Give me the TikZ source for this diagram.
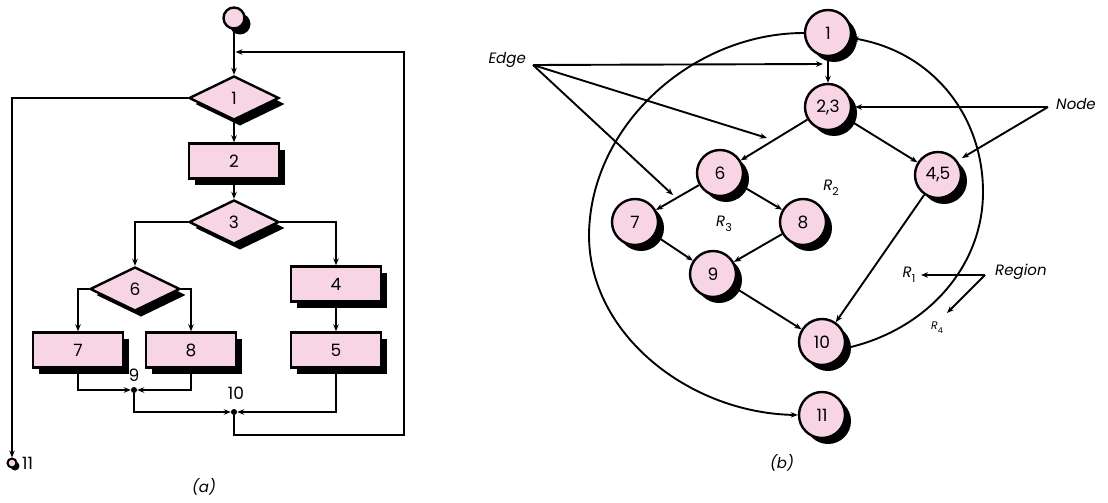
\documentclass[tikz,border=0pt]{standalone}
\usepackage{fontspec}
\setmainfont{Poppins}
\usetikzlibrary{shapes.geometric,arrows.meta,shadows}
\definecolor{pk}{RGB}{248,213,229}
\newcommand{\fnum}{\fontsize{17}{17}\selectfont}
\newcommand{\Rlab}[1]{\textit{R}\raisebox{-0.35em}{\upshape\fontsize{11}{11}\selectfont #1}}
\begin{document}
\begin{tikzpicture}[x=1pt,y=-1pt,
  sh/.style={drop shadow={shadow xshift=6pt,shadow yshift=-6pt,opacity=1,fill=black}},
  shs/.style={drop shadow={shadow xshift=3pt,shadow yshift=-3pt,opacity=1,fill=black}},
  dia/.style={diamond,draw,line width=2.4pt,fill=pk,minimum width=90pt,minimum height=44pt,inner sep=0pt,sh,font=\fnum},
  box/.style={rectangle,draw,line width=2.4pt,fill=pk,minimum width=90pt,minimum height=35pt,inner sep=0pt,sh,font=\fnum},
  gn/.style={circle,draw,line width=2.4pt,fill=pk,minimum size=46pt,inner sep=0pt,sh,font=\fnum},
  dot/.style={circle,fill=black,inner sep=0pt,minimum size=6pt},
  ln/.style={line width=1.9pt},
  ar/.style={ln,-{Stealth[length=7pt,width=5.5pt]}},
  lbl/.style={font=\itshape\fontsize{15}{15}\selectfont,inner sep=0pt},
  txt/.style={font=\fnum,inner sep=0pt}]
\useasboundingbox[fill=white] (0,0) rectangle (1108,503);
% ---------- (a) ----------
\node[circle,draw,line width=2.4pt,fill=pk,minimum size=21pt,inner sep=0pt,sh] (s) at (234,18) {};
\node[dia] (d1) at (234,98) {1};
\node[box] (b2) at (234,161) {2};
\node[dia] (d3) at (234,222) {3};
\node[dia] (d6) at (135,289) {6};
\node[box] (b4) at (336,284) {4};
\node[box] (b7) at (78,350) {7};
\node[box] (b8) at (191,350) {8};
\node[box] (b5) at (336,350) {5};
\node[dot] (j9) at (134,390) {};
\node[txt] (l9) at (134,375) {9};
\node[dot] (j10) at (234,412) {};
\node[txt] (l10) at (236,393) {10};
\node[circle,draw,line width=2pt,fill=pk,minimum size=9pt,inner sep=0pt,shs] (e) at (12,463) {};
\node[txt,anchor=west] (l11) at (22,463) {11};
\node[lbl] (capa) at (204,487) {(a)};
\coordinate (lpin) at (235.5,52);
\draw[ar] (s.south) -- (d1.north);
\draw[ar] (j10.south) |- (404,435) |- (lpin);
\draw[ar] (d1.west) -| (e.north);
\draw[ar] (d1) -- (b2);
\draw[ar] (b2) -- (d3);
\draw[ar] (d3.west) -| (d6.north);
\draw[ar] (d3.east) -| (b4.north);
\draw[ar] (d6.west) -| (b7.north);
\draw[ar] (d6.east) -| (b8.north);
\draw[ar] (b4) -- (b5);
\draw[ar] (b7.south) |- (j9.west);
\draw[ar] (b8.south) |- (j9.east);
\draw[ar] (j9.south) |- (j10.west);
\draw[ar] (b5.south) |- (j10.east);
% ---------- (b) ----------
\node[gn] (n1) at (828,33) {1};
\node[gn] (n23) at (828,107) {2,3};
\node[gn] (n45) at (938,175) {4,5};
\node[gn] (n6) at (720,173) {6};
\node[gn] (n7) at (635,222) {7};
\node[gn] (n8) at (803,222) {8};
\node[gn] (n9) at (713,274) {9};
\node[gn] (n10) at (822,342) {10};
\node[gn] (n11) at (822,415) {11};
\draw[ar] (n1) -- (n23);
\draw[ar] (n23) -- (n6);
\draw[ar] (n23) -- (n45);
\draw[ar] (n6) -- (n7);
\draw[ar] (n6) -- (n8);
\draw[ar] (n7) -- (n9);
\draw[ar] (n8) -- (n9);
\draw[ar] (n9) -- (n10);
\draw[ar] (n45) -- (n10);
\draw[ar] (n10.-15) .. controls (925,331) and (983,268) .. (983,192) .. controls (983,116) and (933,52) .. (n1.-12);
\draw[ar] (n1.west) .. controls (693,33) and (590,125) .. (589,235) .. controls (589,335) and (690,413) .. (n11.west);
\node[lbl] (r3) at (724,224) {\Rlab{3}};
\node[lbl] (r2) at (831,188) {\Rlab{2}};
\node[lbl] (r1) at (909,275) {\Rlab{1}};
\node[lbl,font=\itshape\fontsize{11}{11}\selectfont] (r4) at (937,328) {\textit{R}\raisebox{-0.35em}{\upshape\fontsize{8}{8}\selectfont 4}};
\node[lbl,anchor=east] (edge) at (526,60) {Edge};
\node[lbl,anchor=west] (nodel) at (1056,104) {Node};
\node[lbl,anchor=west] (region) at (995,272) {Region};
\coordinate (ea) at (533,65);
\coordinate (na) at (1048,107);
\coordinate (ra) at (985,275);
\coordinate (et1) at (823,64);
\coordinate (et2) at (767,138);
\coordinate (et3) at (673,195);
\coordinate (nt1) at (855,107);
\coordinate (nt2) at (962,158);
\coordinate (rt1) at (921,275);
\coordinate (rt2) at (947,313);
\draw[ar] (ea) -- (et1);
\draw[ar] (ea) -- (et2);
\draw[ar] (ea) -- (et3);
\draw[ar] (na) -- (nt1);
\draw[ar] (na) -- (nt2);
\draw[ar] (ra) -- (rt1);
\draw[ar] (ra) -- (rt2);
\node[lbl] (capb) at (782,463) {(b)};
\end{tikzpicture}
\end{document}
